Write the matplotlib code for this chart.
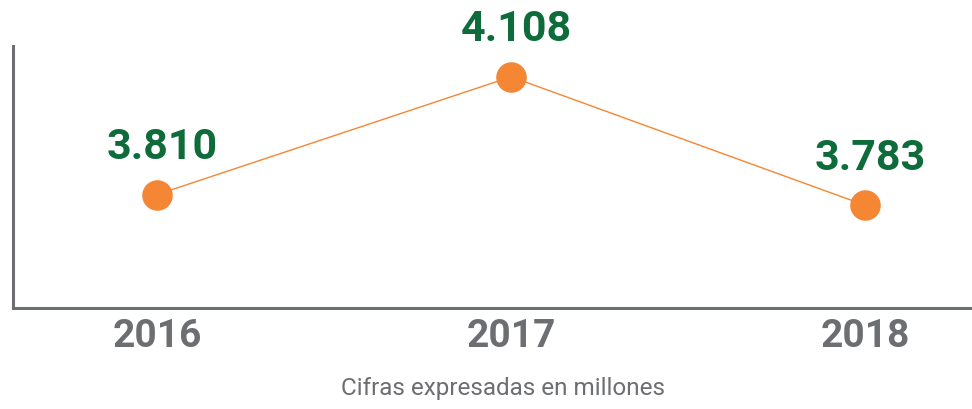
import matplotlib.pyplot as plt

# ====== Data ======
years = ["2016", "2017", "2018"]
values = [3810, 4108, 3783]
labels = ["3.810", "4.108", "3.783"]

orange = "#F58634"
green = "#0E6B3A"
gray = "#6D6E71"

fig = plt.figure(figsize=(9.72, 4.09), dpi=100)
ax = fig.add_axes([13 / 972, 101 / 409, 959 / 972, 262 / 409])

x = list(range(len(years)))
ax.plot(x, values, color=orange, lw=1.0, zorder=2)
ax.scatter(x, values, s=22 ** 2, color=orange, zorder=3, linewidths=0)

# value labels above the points
for xi, v, lab in zip(x, values, labels):
    ax.annotate(lab, (xi, v), xytext=(4, 34), textcoords="offset points",
                ha="center", va="center", fontsize=31, fontweight="bold",
                color=green, family="Roboto")

ax.set_xlim(-0.407, 2.302)
ax.set_ylim(3523, 4186)
ax.set_xticks(x)
ax.set_xticklabels(years, fontsize=28, fontweight="bold", color=gray, family="Roboto")
ax.tick_params(axis="x", length=0, pad=7)
ax.set_yticks([])

for s in ["top", "right"]:
    ax.spines[s].set_visible(False)
for s in ["left", "bottom"]:
    ax.spines[s].set_color(gray)
    ax.spines[s].set_linewidth(2.2)

fig.text(503 / 972, 1 - 389 / 409, "Cifras expresadas en millones", ha="center", va="center",
         fontsize=17.5, color=gray, family="Roboto")

plt.savefig("out.png", dpi=100)
